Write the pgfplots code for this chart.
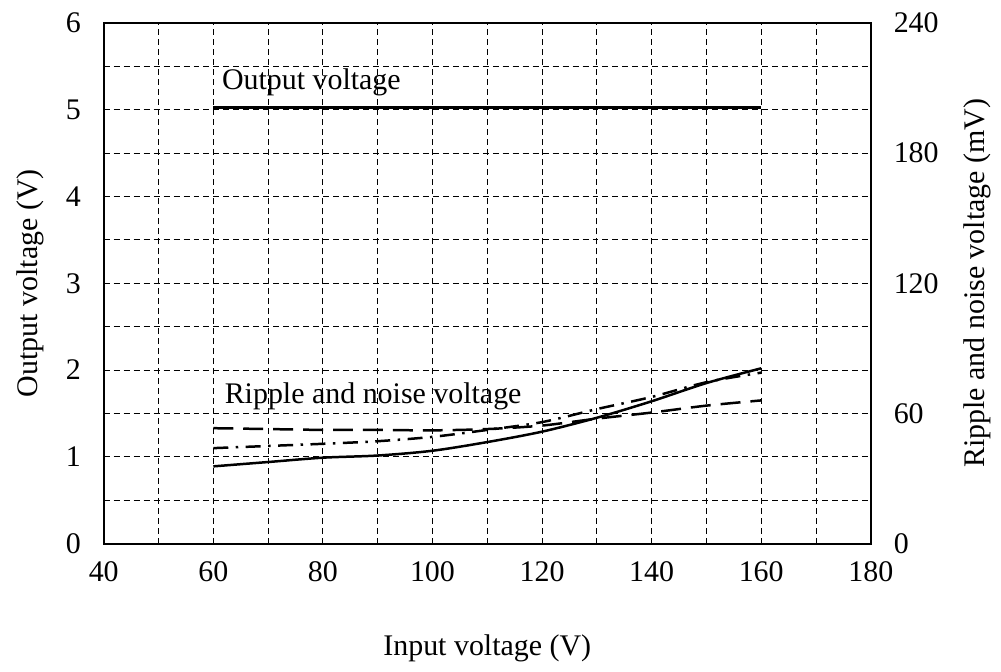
\documentclass[border=0pt]{standalone}
\usepackage{pgfplots}
\pgfplotsset{compat=1.18}
\usepackage{fontspec}
\setmainfont{Liberation Serif}
\begin{document}
\fontsize{12}{14}\selectfont
\begin{tikzpicture}
\pgfplotsset{
  common/.style={
    scale only axis, width=307.6pt, height=208.8pt,
    xmin=40, xmax=180,
    /pgf/number format/assume math mode=true,
    tick label style={font=\fontsize{12}{14}\selectfont},
    label style={font=\fontsize{12}{14}\selectfont},
    major tick length=0pt, minor tick length=0pt,
    axis line style={line width=0.8pt},
  }
}
\begin{axis}[common,
  ymin=0, ymax=6,
  xtick={40,60,...,180}, minor xtick={50,70,...,170},
  ytick={0,1,...,6}, minor ytick={0.5,1.5,...,5.5},
  grid=both,
  major grid style={black, line width=0.4pt, dash pattern=on 2.4pt off 1.6pt},
  minor grid style={black, line width=0.4pt, dash pattern=on 2.4pt off 1.6pt},
  xticklabel style={yshift=-3pt},
  yticklabel style={xshift=-5pt},
  xlabel={Input voltage (V)},
  xlabel style={at={(axis description cs:0.5,-0.201)}, anchor=center},
  ylabel={Output voltage (V)},
  ylabel style={at={(axis description cs:-0.0962,0.5)}, anchor=center},
  clip=false,
]
\addplot[black, line width=1.2pt] coordinates {(60,5.02) (160,5.02)};
\node[anchor=west, inner sep=0pt] at (axis cs:61.5,5.31) {Output voltage};
\node[anchor=west, inner sep=0pt] at (axis cs:62,1.70) {Ripple and noise voltage};
\coordinate (bl) at (rel axis cs:0,0);
\coordinate (tr) at (rel axis cs:1,1);
\end{axis}
\begin{axis}[common,
  ymin=0, ymax=240,
  axis y line*=right, axis x line=none,
  ytick={0,60,...,240},
  yticklabel style={xshift=5pt},
  ylabel={Ripple and noise voltage (mV)},
  ylabel style={at={(axis description cs:1.139,0.5)}, anchor=center},
]
% solid
\addplot[black, line width=1pt, smooth] coordinates {
(60,35.6) (70,37.6) (80,39.6) (90,40.6) (100,42.8) (110,46.8) (120,51.6) (130,58) (140,65.6) (150,74) (160,80.8)};
% long dashed
\addplot[black, line width=1pt, smooth, dash pattern=on 8pt off 4pt] coordinates {
(60,53.2) (70,52.8) (80,52.4) (90,52.4) (100,52.2) (110,52.8) (120,54.4) (130,57.6) (140,60.4) (150,63.6) (160,66)};
% dash-dot
\addplot[black, line width=1pt, smooth, dash pattern=on 6pt off 3pt on 1pt off 3pt] coordinates {
(60,44) (70,45) (80,46) (90,47.2) (100,49.2) (110,52.4) (120,56) (130,62) (140,67.6) (150,74.4) (160,78.8)};
\end{axis}
\path[use as bounding box] ([shift={(-41.6pt,-47.6pt)}]bl) rectangle ([shift={(51.2pt,9.2pt)}]tr);
\end{tikzpicture}
\end{document}
